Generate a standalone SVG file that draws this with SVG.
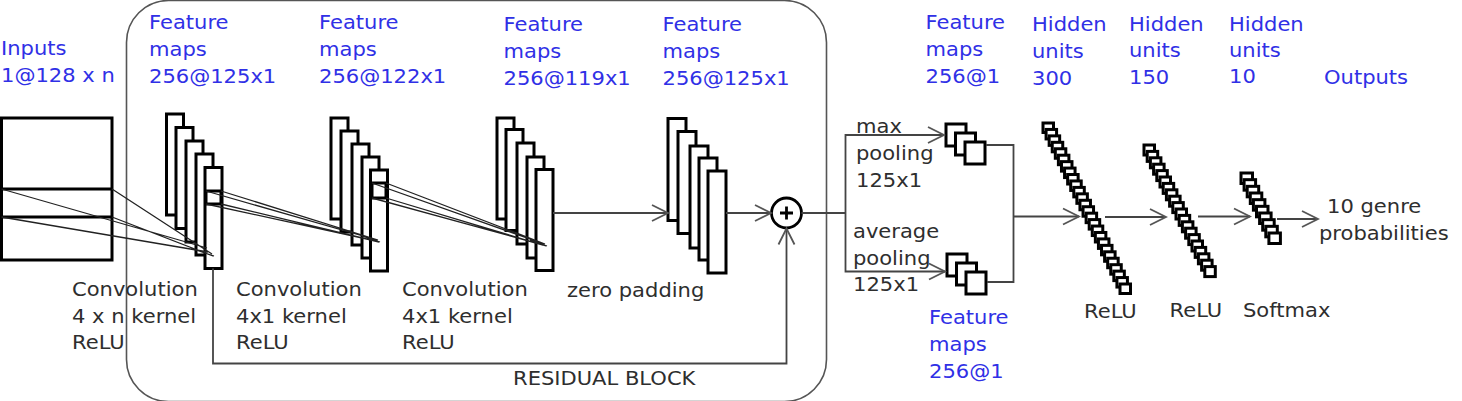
<svg xmlns="http://www.w3.org/2000/svg" width="1462" height="401" viewBox="0 0 1462 401">
<style>
.blue{font-family:"DejaVu Sans",sans-serif;font-size:19.6px;fill:#3030e6}
.gray{font-family:"DejaVu Sans",sans-serif;font-size:19.6px;fill:#2e2e2e}
.map{fill:#fff;stroke:#000;stroke-width:3}
.unit{fill:#fff;stroke:#000;stroke-width:3}
.conn{fill:none;stroke:#444;stroke-width:1.8}
.proj{fill:none;stroke:#222;stroke-width:1.3}
.arr{fill:none;stroke:#444;stroke-width:1.8;marker-end:url(#ah)}
</style>
<defs>
<marker id="ah" viewBox="-18 -10 20 20" refX="0" refY="0" markerWidth="20" markerHeight="20" markerUnits="userSpaceOnUse" orient="auto">
<path d="M-16,-8 L0,0 L-16,8" fill="none" stroke="#555" stroke-width="1.8"/>
</marker>
</defs>
<rect width="1462" height="401" fill="#fff"/>

<g id="residual-block">
<rect x="126.5" y="0.5" width="700" height="401" rx="42" fill="none" stroke="#555" stroke-width="1.6"/>
<text class="gray" transform="translate(513,385) scale(1.075,1)">RESIDUAL BLOCK</text>
</g>

<g id="inputs">
<rect class="map" x="1.5" y="118" width="110.5" height="142"/>
<line x1="1.5" y1="189" x2="112" y2="189" stroke="#000" stroke-width="3"/>
<line x1="1.5" y1="217" x2="112" y2="217" stroke="#000" stroke-width="3"/>
<text class="blue" transform="translate(1,55) scale(1.075,1)"><tspan x="0">Inputs</tspan><tspan x="0" dy="26.7">1@128 x n</tspan></text>
</g>

<g id="fmaps1">
<rect class="map" x="166.5" y="114" width="17" height="101"/>
<rect class="map" x="176" y="127.5" width="17" height="101"/>
<rect class="map" x="186" y="141" width="17" height="101"/>
<rect class="map" x="196" y="154" width="17" height="101"/>
<rect class="map" x="205" y="167.5" width="17" height="101"/>
<rect class="map" x="206" y="191" width="15" height="13"/>
<text class="blue" transform="translate(149,29) scale(1.075,1)"><tspan x="0">Feature</tspan><tspan x="0" dy="27">maps</tspan><tspan x="0" dy="27">256@125x1</tspan></text>
</g>

<g id="fmaps2">
<rect class="map" x="331" y="118" width="17" height="101"/>
<rect class="map" x="341" y="131" width="17" height="101"/>
<rect class="map" x="352" y="144" width="17" height="101"/>
<rect class="map" x="362" y="157" width="17" height="101"/>
<rect class="map" x="370.5" y="170" width="17" height="101"/>
<rect class="map" x="372" y="183" width="14" height="15"/>
<text class="blue" transform="translate(319,29) scale(1.075,1)"><tspan x="0">Feature</tspan><tspan x="0" dy="27">maps</tspan><tspan x="0" dy="27">256@122x1</tspan></text>
</g>

<g id="fmaps3">
<rect class="map" x="497" y="118" width="17" height="101"/>
<rect class="map" x="506" y="129.5" width="17" height="101"/>
<rect class="map" x="517" y="143" width="17" height="101"/>
<rect class="map" x="527" y="157" width="17" height="101"/>
<rect class="map" x="536" y="169.5" width="17" height="101"/>
<text class="blue" transform="translate(503.5,31) scale(1.075,1)"><tspan x="0">Feature</tspan><tspan x="0" dy="27">maps</tspan><tspan x="0" dy="27">256@119x1</tspan></text>
</g>

<g id="fmaps4">
<rect class="map" x="668" y="118.5" width="18" height="102"/>
<rect class="map" x="678" y="131.5" width="18" height="102"/>
<rect class="map" x="690" y="146" width="18" height="102"/>
<rect class="map" x="699" y="158" width="18" height="102"/>
<rect class="map" x="708" y="171" width="18" height="102"/>
<text class="blue" transform="translate(662.5,31) scale(1.075,1)"><tspan x="0">Feature</tspan><tspan x="0" dy="27">maps</tspan><tspan x="0" dy="27">256@125x1</tspan></text>
</g>

<g id="sum">
<circle cx="786.5" cy="213" r="15" fill="#fff" stroke="#000" stroke-width="2.8"/>
<path d="M780,213 H793 M786.5,206.5 V219.5" stroke="#000" stroke-width="2.8"/>
</g>

<g id="maxpool-maps">
<rect class="map" x="946" y="124" width="20" height="22"/>
<rect class="map" x="955.5" y="133" width="20" height="22"/>
<rect class="map" x="965" y="142" width="20" height="22"/>
<text class="blue" transform="translate(925.5,29) scale(1.075,1)"><tspan x="0">Feature</tspan><tspan x="0" dy="27">maps</tspan><tspan x="0" dy="27">256@1</tspan></text>
</g>

<g id="avgpool-maps">
<rect class="map" x="947" y="254" width="20" height="22"/>
<rect class="map" x="956.5" y="263" width="20" height="22"/>
<rect class="map" x="966" y="272" width="20" height="22"/>
<text class="blue" transform="translate(929,324) scale(1.075,1)"><tspan x="0">Feature</tspan><tspan x="0" dy="27">maps</tspan><tspan x="0" dy="27">256@1</tspan></text>
</g>

<g id="hidden300">
<rect class="unit" x="1043" y="123" width="10.5" height="9.5"/>
<rect class="unit" x="1046.08" y="129.44" width="10.5" height="9.5"/>
<rect class="unit" x="1049.16" y="135.88" width="10.5" height="9.5"/>
<rect class="unit" x="1052.24" y="142.32" width="10.5" height="9.5"/>
<rect class="unit" x="1055.32" y="148.76" width="10.5" height="9.5"/>
<rect class="unit" x="1058.4" y="155.2" width="10.5" height="9.5"/>
<rect class="unit" x="1061.48" y="161.64" width="10.5" height="9.5"/>
<rect class="unit" x="1064.56" y="168.08" width="10.5" height="9.5"/>
<rect class="unit" x="1067.64" y="174.52" width="10.5" height="9.5"/>
<rect class="unit" x="1070.72" y="180.96" width="10.5" height="9.5"/>
<rect class="unit" x="1073.8" y="187.4" width="10.5" height="9.5"/>
<rect class="unit" x="1076.88" y="193.84" width="10.5" height="9.5"/>
<rect class="unit" x="1079.96" y="200.28" width="10.5" height="9.5"/>
<rect class="unit" x="1083.04" y="206.72" width="10.5" height="9.5"/>
<rect class="unit" x="1086.12" y="213.16" width="10.5" height="9.5"/>
<rect class="unit" x="1089.2" y="219.6" width="10.5" height="9.5"/>
<rect class="unit" x="1092.28" y="226.04" width="10.5" height="9.5"/>
<rect class="unit" x="1095.36" y="232.48" width="10.5" height="9.5"/>
<rect class="unit" x="1098.44" y="238.92" width="10.5" height="9.5"/>
<rect class="unit" x="1101.52" y="245.36" width="10.5" height="9.5"/>
<rect class="unit" x="1104.6" y="251.8" width="10.5" height="9.5"/>
<rect class="unit" x="1107.68" y="258.24" width="10.5" height="9.5"/>
<rect class="unit" x="1110.76" y="264.68" width="10.5" height="9.5"/>
<rect class="unit" x="1113.84" y="271.12" width="10.5" height="9.5"/>
<rect class="unit" x="1116.92" y="277.56" width="10.5" height="9.5"/>
<rect class="unit" x="1120" y="284" width="10.5" height="9.5"/>
<text class="blue" transform="translate(1032,31) scale(1.075,1)"><tspan x="0">Hidden</tspan><tspan x="0" dy="27">units</tspan><tspan x="0" dy="27">300</tspan></text>
<text class="gray" transform="translate(1084,318) scale(1.075,1)">ReLU</text>
</g>

<g id="hidden150">
<rect class="unit" x="1144" y="145" width="10.5" height="10"/>
<rect class="unit" x="1147.2" y="151.4" width="10.5" height="10"/>
<rect class="unit" x="1150.4" y="157.8" width="10.5" height="10"/>
<rect class="unit" x="1153.6" y="164.2" width="10.5" height="10"/>
<rect class="unit" x="1156.8" y="170.6" width="10.5" height="10"/>
<rect class="unit" x="1160" y="177" width="10.5" height="10"/>
<rect class="unit" x="1163.2" y="183.4" width="10.5" height="10"/>
<rect class="unit" x="1166.4" y="189.8" width="10.5" height="10"/>
<rect class="unit" x="1169.6" y="196.2" width="10.5" height="10"/>
<rect class="unit" x="1172.8" y="202.6" width="10.5" height="10"/>
<rect class="unit" x="1176" y="209" width="10.5" height="10"/>
<rect class="unit" x="1179.2" y="215.4" width="10.5" height="10"/>
<rect class="unit" x="1182.4" y="221.8" width="10.5" height="10"/>
<rect class="unit" x="1185.6" y="228.2" width="10.5" height="10"/>
<rect class="unit" x="1188.8" y="234.6" width="10.5" height="10"/>
<rect class="unit" x="1192" y="241" width="10.5" height="10"/>
<rect class="unit" x="1195.2" y="247.4" width="10.5" height="10"/>
<rect class="unit" x="1198.4" y="253.8" width="10.5" height="10"/>
<rect class="unit" x="1201.6" y="260.2" width="10.5" height="10"/>
<rect class="unit" x="1204.8" y="266.6" width="10.5" height="10"/>
<text class="blue" transform="translate(1129,31) scale(1.075,1)"><tspan x="0">Hidden</tspan><tspan x="0" dy="26">units</tspan><tspan x="0" dy="27">150</tspan></text>
<text class="gray" transform="translate(1169.5,317) scale(1.075,1)">ReLU</text>
</g>

<g id="hidden10">
<rect class="unit" x="1241" y="173" width="11.5" height="10.5"/>
<rect class="unit" x="1244.1" y="179.67" width="11.5" height="10.5"/>
<rect class="unit" x="1247.2" y="186.33" width="11.5" height="10.5"/>
<rect class="unit" x="1250.3" y="193" width="11.5" height="10.5"/>
<rect class="unit" x="1253.4" y="199.67" width="11.5" height="10.5"/>
<rect class="unit" x="1256.5" y="206.33" width="11.5" height="10.5"/>
<rect class="unit" x="1259.6" y="213" width="11.5" height="10.5"/>
<rect class="unit" x="1262.7" y="219.67" width="11.5" height="10.5"/>
<rect class="unit" x="1265.8" y="226.33" width="11.5" height="10.5"/>
<rect class="unit" x="1268.9" y="233" width="11.5" height="10.5"/>
<text class="blue" transform="translate(1229,31) scale(1.075,1)"><tspan x="0">Hidden</tspan><tspan x="0" dy="26">units</tspan><tspan x="0" dy="26.5">10</tspan></text>
<text class="gray" transform="translate(1243,317) scale(1.075,1)">Softmax</text>
</g>

<g id="outputs">
<text class="blue" transform="translate(1324,84) scale(1.075,1)">Outputs</text>
<text class="gray" transform="translate(1327,213) scale(1.075,1)">10 genre</text>
<text class="gray" transform="translate(1319,240) scale(1.075,1)">probabilities</text>
</g>

<g id="labels">
<text class="gray" transform="translate(72,296) scale(1.075,1)"><tspan x="0">Convolution</tspan><tspan x="0" dy="26.7">4 x n kernel</tspan><tspan x="0" dy="26.7">ReLU</tspan></text>
<text class="gray" transform="translate(236,296) scale(1.075,1)"><tspan x="0">Convolution</tspan><tspan x="0" dy="26.7">4x1 kernel</tspan><tspan x="0" dy="26.7">ReLU</tspan></text>
<text class="gray" transform="translate(402,296) scale(1.075,1)"><tspan x="0">Convolution</tspan><tspan x="0" dy="26.7">4x1 kernel</tspan><tspan x="0" dy="26.7">ReLU</tspan></text>
<text class="gray" transform="translate(567,297) scale(1.075,1)">zero padding</text>
<text class="gray" transform="translate(856,133) scale(1.075,1)"><tspan x="0">max</tspan><tspan x="0" dy="27">pooling</tspan><tspan x="0" dy="27">125x1</tspan></text>
<text class="gray" transform="translate(853,238) scale(1.075,1)"><tspan x="0">average</tspan><tspan x="0" dy="26.7">pooling</tspan><tspan x="0" dy="26.7">125x1</tspan></text>
</g>

<g id="connectors">
<path class="proj" d="M1.5,189 L207,248 M112,189 L212,254 M1.5,217 L208,252 M112,217 L213,256 M196,250 L214,256"/>
<path class="proj" d="M206,191 L377,240 M221,191 L378,240 M206,204 L376,241 M221,204 L379,242 M362,236 L380,242"/>
<path class="proj" d="M372,183 L544,244 M386,183 L545,244 M372,198 L543,245 M386,198 L546,246 M530,240 L547,246"/>
<path class="arr" d="M553,213 H668"/>
<path class="arr" d="M726,213 H771"/>
<path class="arr" d="M213,268.5 V363.5 H786.5 V228.5"/>
<path class="conn" d="M801.5,213 H845.5"/>
<path class="arr" d="M845.5,213 V135 H944"/>
<path class="arr" d="M845.5,213 V271.5 H945"/>
<path class="conn" d="M986,145 H1013.5 V282 H987"/>
<path class="arr" d="M1013.5,216.5 H1079"/>
<path class="arr" d="M1105,217 H1166"/>
<path class="arr" d="M1198,216.5 H1250"/>
<path class="arr" d="M1277,219 H1318"/>
</g>
</svg>
